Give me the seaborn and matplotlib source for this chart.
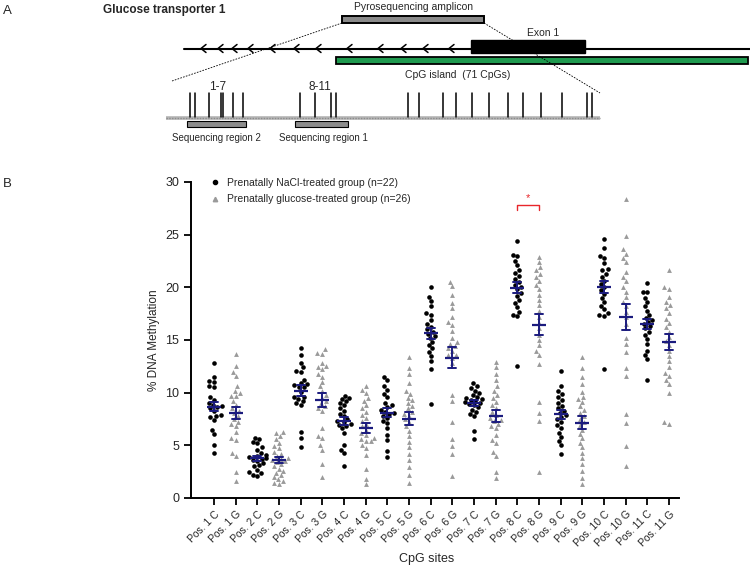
import matplotlib
matplotlib.use('Agg')
import matplotlib.pyplot as plt
from matplotlib.patches import Rectangle
from matplotlib.lines import Line2D
import pandas as pd
import seaborn as sns

# CpG site values (% methylation per animal)
nacl_pos1 = [12.8, 11.5, 11.1, 11.0, 10.6, 10.5, 9.6, 9.3, 9.0, 8.8, 8.7, 8.6, 8.5, 8.3, 7.9, 7.8, 7.7, 7.4, 6.5, 6.1, 5.0, 4.3]
gluc_pos1 = [13.7, 12.5, 12.0, 11.6, 10.6, 10.2, 10.0, 9.7, 9.7, 9.2, 8.8, 8.5, 8.3, 8.1, 7.8, 7.5, 7.2, 7.0, 6.8, 6.3, 5.7, 5.5, 4.3, 4.0, 2.5, 1.6]
nacl_pos2 = [5.7, 5.6, 5.3, 5.2, 4.8, 4.6, 4.3, 4.1, 4.0, 3.9, 3.8, 3.7, 3.6, 3.5, 3.3, 3.1, 3.0, 2.7, 2.5, 2.4, 2.2, 2.1]
gluc_pos2 = [6.3, 6.2, 5.9, 5.6, 5.2, 4.9, 4.7, 4.4, 4.2, 4.0, 3.8, 3.7, 3.6, 3.5, 3.4, 3.2, 3.0, 2.8, 2.6, 2.4, 2.2, 2.0, 1.8, 1.6, 1.4, 1.3]
nacl_pos3 = [14.2, 13.6, 12.8, 12.4, 12.1, 12.0, 11.2, 10.9, 10.7, 10.5, 10.8, 10.1, 10.5, 9.6, 9.2, 9.6, 9.4, 9.0, 8.8, 6.3, 5.7, 4.8]
gluc_pos3 = [14.1, 13.8, 13.7, 12.8, 12.5, 12.4, 12.2, 11.8, 11.5, 11.0, 10.6, 10.2, 9.8, 9.5, 9.2, 9.0, 8.7, 8.5, 8.3, 6.6, 5.9, 5.7, 5.0, 4.6, 3.2, 2.0]
nacl_pos4 = [9.7, 9.5, 9.4, 9.2, 9.0, 8.8, 8.5, 8.3, 8.0, 7.8, 7.5, 7.3, 7.0, 6.8, 7.2, 6.9, 6.6, 6.2, 5.0, 4.6, 4.3, 3.0]
gluc_pos4 = [10.6, 10.3, 10.0, 9.5, 9.2, 8.8, 8.5, 8.2, 7.9, 7.6, 7.3, 7.0, 6.8, 6.5, 6.2, 6.0, 5.7, 5.4, 5.6, 5.4, 5.0, 4.7, 4.1, 2.8, 1.8, 1.3]
nacl_pos5 = [11.5, 11.2, 10.6, 10.3, 9.9, 9.6, 9.0, 8.8, 8.6, 8.4, 8.2, 8.1, 8.0, 7.8, 7.6, 7.3, 7.1, 6.6, 6.0, 5.5, 4.5, 3.9]
gluc_pos5 = [13.4, 12.3, 11.8, 10.9, 10.2, 9.9, 9.5, 9.3, 9.0, 8.7, 8.5, 8.2, 8.0, 7.8, 7.5, 7.2, 6.8, 6.4, 5.9, 5.3, 4.8, 4.2, 3.6, 2.9, 2.2, 1.4]
nacl_pos6 = [20.0, 19.1, 18.7, 18.2, 17.6, 17.4, 16.9, 16.5, 16.2, 16.0, 15.8, 15.6, 15.4, 15.2, 14.8, 14.5, 14.2, 13.9, 13.5, 13.0, 12.2, 8.9]
gluc_pos6 = [20.5, 20.1, 19.3, 18.5, 18.0, 17.2, 16.7, 16.4, 15.9, 15.2, 14.8, 14.4, 14.0, 13.6, 13.3, 14.6, 14.2, 13.6, 12.8, 9.8, 9.2, 7.2, 5.6, 4.9, 4.2, 2.1]
nacl_pos7 = [10.9, 10.6, 10.4, 10.2, 10.0, 9.8, 9.6, 9.5, 9.4, 9.3, 9.2, 9.1, 9.0, 8.9, 8.8, 8.6, 8.4, 8.2, 8.0, 7.8, 6.4, 5.6]
gluc_pos7 = [12.9, 12.4, 11.8, 11.2, 10.6, 10.2, 9.8, 9.5, 9.1, 8.8, 8.5, 8.2, 7.9, 7.6, 7.3, 7.0, 7.4, 6.8, 6.6, 6.0, 5.5, 5.2, 4.4, 4.0, 2.5, 1.9]
nacl_pos8 = [24.4, 23.1, 23.0, 22.5, 22.1, 21.6, 21.4, 21.1, 20.8, 20.5, 20.2, 20.0, 19.8, 19.5, 19.2, 18.8, 18.5, 18.1, 17.7, 17.4, 17.3, 12.5]
gluc_pos8 = [22.9, 22.4, 21.9, 21.6, 21.3, 21.0, 20.6, 20.2, 19.8, 19.3, 18.8, 18.3, 17.8, 17.2, 16.6, 16.1, 15.5, 15.0, 14.5, 14.0, 13.6, 12.7, 9.1, 8.1, 7.3, 2.5]
nacl_pos9 = [12.1, 10.6, 10.2, 9.9, 9.6, 9.3, 9.0, 8.7, 8.5, 8.3, 8.1, 7.9, 7.7, 7.5, 7.2, 6.9, 6.6, 6.2, 5.8, 5.4, 5.0, 4.2]
gluc_pos9 = [13.4, 12.3, 11.5, 10.8, 10.1, 9.6, 9.4, 9.1, 8.7, 8.4, 8.1, 7.8, 7.5, 7.2, 6.9, 6.5, 6.1, 5.7, 5.2, 4.8, 4.3, 3.8, 3.2, 2.6, 1.9, 1.3]
nacl_pos10 = [24.6, 23.7, 23.0, 22.8, 22.3, 21.7, 21.6, 21.3, 21.0, 20.6, 20.3, 20.0, 19.7, 19.4, 19.0, 18.6, 18.2, 17.9, 17.6, 17.4, 17.3, 12.2]
gluc_pos10 = [28.4, 24.9, 23.6, 23.2, 22.8, 22.4, 21.5, 21.0, 20.6, 20.0, 19.6, 19.1, 18.6, 18.2, 17.7, 17.2, 16.5, 15.2, 14.6, 13.9, 12.3, 11.6, 8.0, 7.1, 4.9, 3.0]
nacl_pos11 = [20.4, 19.6, 19.6, 19.0, 18.6, 18.2, 17.8, 17.4, 17.1, 16.9, 16.7, 16.5, 16.3, 16.1, 15.8, 15.5, 15.1, 14.6, 14.0, 13.6, 13.2, 11.2]
gluc_pos11 = [21.6, 20.0, 19.8, 19.1, 18.6, 18.3, 18.0, 17.6, 17.0, 16.6, 16.2, 15.8, 15.3, 14.9, 14.5, 14.0, 13.5, 13.0, 12.4, 11.9, 11.6, 11.2, 10.8, 10.0, 7.2, 7.0]

nacl_sets = [nacl_pos1, nacl_pos2, nacl_pos3, nacl_pos4, nacl_pos5, nacl_pos6,
             nacl_pos7, nacl_pos8, nacl_pos9, nacl_pos10, nacl_pos11]
gluc_sets = [gluc_pos1, gluc_pos2, gluc_pos3, gluc_pos4, gluc_pos5, gluc_pos6,
             gluc_pos7, gluc_pos8, gluc_pos9, gluc_pos10, gluc_pos11]

nacl_label = 'Prenatally NaCl-treated group (n=22)'
gluc_label = 'Prenatally glucose-treated group (n=26)'

rows = []
sites = []
for i, (c, g) in enumerate(zip(nacl_sets, gluc_sets)):
    sites += [f'Pos. {i+1} C', f'Pos. {i+1} G']
    rows += [(f'Pos. {i+1} C', v, 'NaCl') for v in c]
    rows += [(f'Pos. {i+1} G', v, 'Glucose') for v in g]
df = pd.DataFrame(rows, columns=['site', 'value', 'group'])

sns.set_style('ticks')
plt.rcParams['font.family'] = ['Liberation Sans', 'DejaVu Sans']

W, H = 750, 574
fig = plt.figure(figsize=(7.5, 5.74), dpi=100)

# ---- panel A: gene diagram, drawn in pixel coordinates
d = fig.add_axes([0, 0, 1, 1])
d.set_xlim(0, W)
d.set_ylim(H, 0)
d.axis('off')

d.text(3, 11, 'A', fontsize=9.5, va='center')
d.text(3, 184, 'B', fontsize=9.5, va='center')
d.text(103, 10, 'Glucose transporter 1', fontsize=8.5, fontweight='bold', va='center')
d.text(414, 7, 'Pyrosequencing amplicon', fontsize=7.5, ha='center', va='center')
d.add_patch(Rectangle((342, 16), 142, 7, facecolor='#8a8a8a', edgecolor='black', lw=1.4))
d.plot([184, 750], [48.5, 48.5], color='black', lw=1.5)
for x in [201, 218, 232, 248, 270, 294, 316, 347, 378, 401, 423, 449]:
    d.plot([x + 5, x, x + 5], [44.5, 48.5, 52.5], color='black', lw=1.1)
d.add_patch(Rectangle((471, 40), 114, 13, facecolor='black', edgecolor='black'))
d.text(543, 33, 'Exon 1', fontsize=7.5, ha='center', va='center')
d.add_patch(Rectangle((336, 57), 412, 7, facecolor='#1f9a4f', edgecolor='black', lw=1.3))
d.text(458, 75, 'CpG island  (71 CpGs)', fontsize=7.5, ha='center', va='center')
d.plot([342, 172], [23, 81], color='black', lw=0.6, ls=(0, (2, 1.5)))
d.plot([484, 600], [23, 93], color='black', lw=0.6, ls=(0, (2, 1.5)))
d.plot([166, 600], [118, 118], color='#b4b4b4', lw=2.6, solid_capstyle='butt')
d.plot([166, 600], [118, 118], color='#8c8c8c', lw=1, ls=(0, (1, 1)))
for x in [190, 195, 209, 221, 223, 233, 243, 300, 315, 331, 336,
          408, 419, 443, 456, 472, 489, 508, 523, 541, 562, 587, 592]:
    d.plot([x, x], [93, 117], color='black', lw=1.1)
d.text(218, 87, '1-7', fontsize=8.5, ha='center', va='center')
d.text(320, 87, '8-11', fontsize=8.5, ha='center', va='center')
d.add_patch(Rectangle((187, 121), 59, 6, facecolor='#8c8c8c', edgecolor='black', lw=0.8))
d.add_patch(Rectangle((295, 121), 53, 6, facecolor='#8c8c8c', edgecolor='black', lw=0.8))
d.text(216, 138, 'Sequencing region 2', fontsize=7, ha='center', va='center')
d.text(323, 138, 'Sequencing region 1', fontsize=7, ha='center', va='center')

# ---- panel B: scatter with mean +/- SEM
ax = fig.add_axes([191 / W, 1 - 498 / H, 488 / W, 316 / H])
navy = '#1b1b7e'
sns.swarmplot(data=df[df.group == 'NaCl'], x='site', y='value', order=sites,
              color='black', marker='o', size=3.3, linewidth=0, ax=ax)
sns.swarmplot(data=df[df.group == 'Glucose'], x='site', y='value', order=sites,
              color='#9a9a9a', marker='^', size=3.5, linewidth=0, ax=ax)
sns.pointplot(data=df, x='site', y='value', order=sites, errorbar='se',
              color=navy, marker='_', linestyle='none', markersize=10,
              markeredgewidth=1.6, capsize=0.36,
              err_kws={'linewidth': 1.4, 'zorder': 6}, zorder=6, ax=ax)

ax.set_xlim(-1.06, 21.46)
ax.set_ylim(0, 30)
ax.set_yticks([0, 5, 10, 15, 20, 25, 30])
ax.set_xticks(range(len(sites)))
ax.set_xticklabels(sites, rotation=45, ha='right', rotation_mode='anchor', fontsize=7.5)
ax.tick_params(axis='y', labelsize=9, length=5, width=1.3, color='black')
ax.tick_params(axis='x', length=5, width=1.3, color='black', pad=3)
for s in ['top', 'right']:
    ax.spines[s].set_visible(False)
for s in ['left', 'bottom']:
    ax.spines[s].set_linewidth(1.4)
    ax.spines[s].set_color('black')

ax.set_ylabel('% DNA Methylation', fontsize=8.5)
ax.yaxis.set_label_coords((160 - 191) / 488, 0.5)
ax.set_xlabel('CpG sites', fontsize=9)
ax.xaxis.set_label_coords((427 - 191) / 488, -(553 - 498) / 316)

# significance bracket between Pos. 8 C and Pos. 8 G
ax.plot([14, 14, 15, 15], [27.3, 27.8, 27.8, 27.3], color='#e8262b', lw=1)
ax.text(14.5, 28.0, '*', color='#e8262b', fontsize=8, ha='center', va='bottom')

handles = [Line2D([], [], marker='o', color='black', linestyle='none', markersize=3),
           Line2D([], [], marker='^', color='#9a9a9a', linestyle='none', markersize=3.2)]
ax.legend(handles, [nacl_label, gluc_label], loc='upper left',
          bbox_to_anchor=((211 - 191) / 488, 1 + 4 / 316), frameon=False,
          fontsize=7.5, handlelength=0.8, handletextpad=0.7, labelspacing=0.6,
          borderpad=0, borderaxespad=0)

fig.savefig('out.png', dpi=100)
